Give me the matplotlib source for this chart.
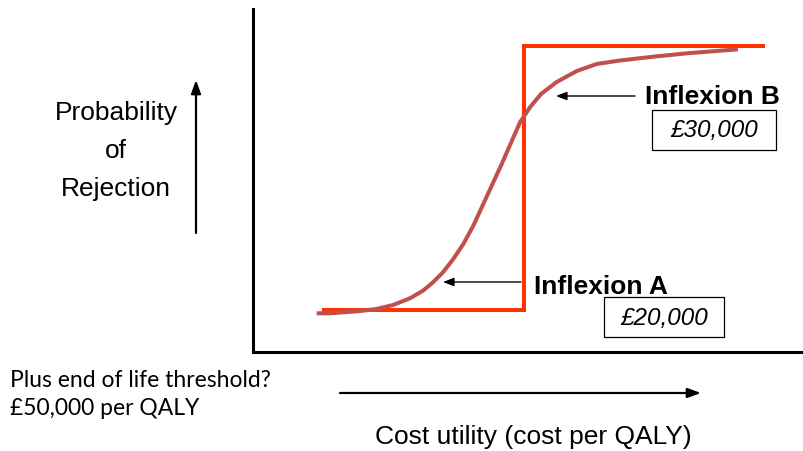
import numpy as np
import matplotlib.pyplot as plt
from matplotlib.patches import FancyArrowPatch, Rectangle

# cost axis runs 0-100 (arbitrary units), probability 0-1
step_x = [12.9, 49.2, 49.2, 92.6]
step_y = [0.123, 0.123, 0.892, 0.892]

curve_x = [11.56, 13.97, 16.33, 19.42, 22.45, 25.41, 28.49, 30.85, 32.67,
           34.48, 36.35, 38.17, 39.98, 41.80, 43.61, 45.14, 46.33,
           48.46, 50.27, 52.27, 55.12, 58.75, 62.38, 66.61, 72.60, 78.71,
           84.75, 88.02]
curve_y = [0.1128, 0.1128, 0.1157, 0.1195, 0.1254, 0.1370, 0.1566, 0.1787,
           0.2032, 0.2324, 0.2711, 0.3149, 0.3682, 0.4315, 0.4948, 0.5481,
           0.5918, 0.6697, 0.7134, 0.7522, 0.7872, 0.8192, 0.8397,
           0.8499, 0.8609, 0.8708, 0.8784, 0.8825]

label_a = 'Inflexion A'
label_b = 'Inflexion B'
value_a = '£20,000'
value_b = '£30,000'

W, H = 804, 452
fig = plt.figure(figsize=(W / 100, H / 100), dpi=100)
fig.patch.set_facecolor('white')

# overlay in pixel units for the slide-style annotations
ov = fig.add_axes([0, 0, 1, 1])
ov.set_xlim(0, W)
ov.set_ylim(H, 0)
ov.axis('off')

ax = fig.add_axes([253 / W, (H - 353) / H, 551 / W, 343 / H])
ax.set_xlim(0, 100)
ax.set_ylim(0, 1)
ax.patch.set_alpha(0)
for s in ('top', 'right'):
    ax.spines[s].set_visible(False)
for s in ('left', 'bottom'):
    ax.spines[s].set_linewidth(2.2)
    ax.spines[s].set_color('black')
ax.set_xticks([])
ax.set_yticks([])

ax.plot(step_x, step_y, color='#ff3300', lw=2.9, solid_joinstyle='miter', zorder=2)
ax.plot(curve_x, curve_y, color='#c0504d', lw=2.9, solid_capstyle='butt',
        solid_joinstyle='round', zorder=3)

arial = 'Liberation Sans'
PT = 0.72  # points per pixel at 100 dpi


def arrow(x0, y0, x1, y1, lw=1.0, hw=7, hl=8):
    # hw / hl are full head width and head length in pixels
    style = f'-|>,head_width={hw * PT / 2},head_length={hl * PT}'
    ov.add_patch(FancyArrowPatch((x0, y0), (x1, y1), lw=lw, color='black',
                                 arrowstyle=style, mutation_scale=1,
                                 shrinkA=0, shrinkB=0))


# inflexion pointers
arrow(635, 97, 556, 97, lw=1.0, hw=7, hl=9)
arrow(521, 283, 443, 283, lw=1.0, hw=7, hl=9)

ov.text(645, 97, label_b, fontsize=19, fontweight='bold', family=arial,
        ha='left', va='center')
ov.add_patch(Rectangle((652, 111), 124, 40, fill=False, lw=0.9, ec='black'))
ov.text(714, 131, value_b, fontsize=17.5, style='italic', family=arial,
        ha='center', va='center')

ov.text(534, 287, label_a, fontsize=19, fontweight='bold', family=arial,
        ha='left', va='center')
ov.add_patch(Rectangle((604, 298), 120, 40, fill=False, lw=0.9, ec='black'))
ov.text(664, 319, value_a, fontsize=17.5, style='italic', family=arial,
        ha='center', va='center')

# y label with upward arrow
ov.text(116, 151, 'Probability\nof\nRejection', fontsize=19, family=arial,
        ha='center', va='center', linespacing=1.72)
arrow(196, 234, 196, 81, lw=1.6, hw=8, hl=11)

# x label with right arrow
arrow(340, 394, 701, 394, lw=1.6, hw=8, hl=11)
ov.text(533, 437, 'Cost utility (cost per QALY)', fontsize=19, family=arial,
        ha='center', va='center')

ov.text(10, 381, 'Plus end of life threshold?', fontsize=16.5, family='Lato',
        ha='left', va='center')
ov.text(10, 409, '£50,000 per QALY', fontsize=16.5, family='Lato',
        ha='left', va='center')

fig.savefig('out.png', dpi=100)
